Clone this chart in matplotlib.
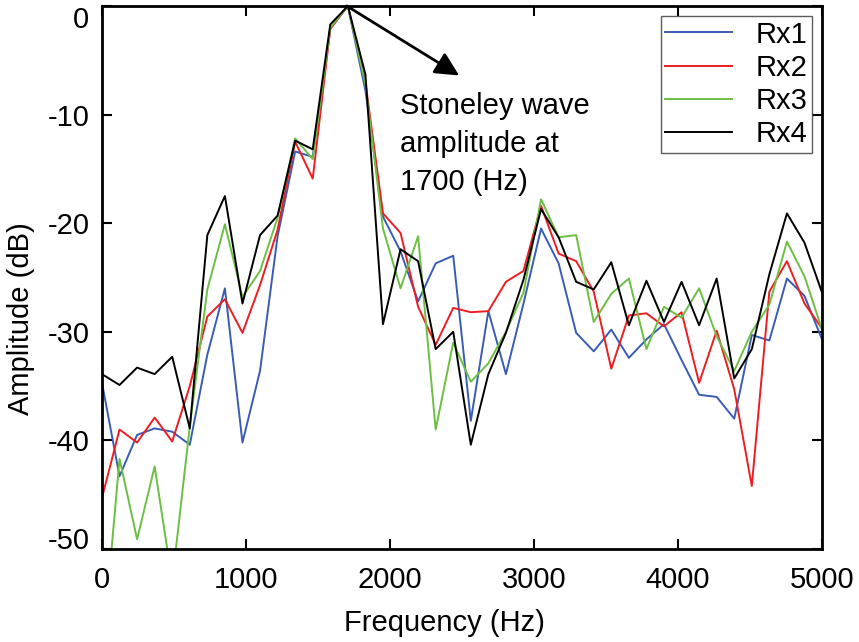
import numpy as np
import matplotlib
matplotlib.use('Agg')
import matplotlib.pyplot as plt

plt.rcParams['font.family'] = ['Liberation Sans', 'DejaVu Sans']
plt.rcParams['axes.unicode_minus'] = False

# frequency bins (42 evenly spaced bins from 0 to 5000 Hz)
freq = np.linspace(0, 5000, 42)

# amplitude spectra (dB) of the four receivers
rx1 = [-34.7, -43.3, -39.5, -38.9, -39.2, -40.4, -32.1, -26.0, -40.2, -33.6,
       -21.2, -13.4, -13.9, -2.1, 0.0, -7.8, -19.4, -22.6, -27.2, -23.7,
       -23.0, -38.2, -28.1, -33.9, -27.4, -20.5, -23.7, -30.1, -31.8, -29.8,
       -32.4, -30.7, -29.3, -32.6, -35.8, -36.0, -38.0, -30.3, -30.8, -25.1,
       -26.7, -30.7]
rx2 = [-45.3, -39.0, -40.2, -37.9, -40.1, -35.0, -28.6, -27.0, -30.1, -25.7,
       -20.6, -12.5, -15.9, -2.1, 0.0, -7.0, -19.1, -20.9, -27.7, -31.2,
       -27.8, -28.2, -28.1, -25.4, -24.4, -18.4, -22.8, -23.5, -26.3, -33.4,
       -28.5, -28.3, -29.5, -28.2, -34.7, -29.9, -35.3, -44.2, -26.3, -23.5,
       -27.4, -29.7]
rx3 = [-60.0, -41.7, -49.1, -42.4, -53.0, -38.7, -26.1, -20.1, -26.8, -24.4,
       -19.5, -12.2, -14.1, -2.0, 0.0, -7.2, -20.5, -26.0, -21.2, -39.0,
       -31.0, -34.6, -32.9, -30.0, -26.4, -17.8, -21.3, -21.1, -29.1, -26.5,
       -25.1, -31.6, -27.7, -28.7, -26.0, -30.4, -33.6, -30.0, -27.5, -21.7,
       -24.9, -29.8]
rx4 = [-33.9, -34.9, -33.3, -33.9, -32.3, -38.9, -21.1, -17.5, -27.4, -21.1,
       -19.3, -12.4, -13.2, -1.7, 0.0, -6.3, -29.3, -22.4, -23.5, -31.6,
       -30.0, -40.4, -33.9, -30.1, -25.2, -18.7, -21.3, -25.4, -26.1, -23.6,
       -29.4, -25.3, -29.1, -25.4, -29.4, -25.1, -34.3, -31.6, -24.7, -19.1,
       -21.8, -26.4]

labels = ['Rx1', 'Rx2', 'Rx3', 'Rx4']
colors = ['#3a5cb4', '#ee1d23', '#6cbf44', '#000000']

fig = plt.figure(figsize=(8.59, 6.42), dpi=100)
ax = fig.add_axes([0.1187, 0.1449, 0.8383, 0.8458])

for y, lab, c in zip([rx1, rx2, rx3, rx4], labels, colors):
    ax.plot(freq, y, color=c, lw=1.4, label=lab)

ax.set_xlim(0, 5000)
ax.set_ylim(-50, 0)
ax.set_xticks([0, 1000, 2000, 3000, 4000, 5000])
ax.set_yticks([0, -10, -20, -30, -40, -50])
ax.tick_params(direction='in', top=True, right=True, length=7, width=1.5,
               labelsize=21)
ax.tick_params(axis='x', pad=12)
ax.tick_params(axis='y', pad=9)
for s in ax.spines.values():
    s.set_linewidth(2)

# end labels sit inside the axis range, as in the original
for t in ax.get_yticklabels():
    if t.get_text() == '0':
        t.set_va('top')
    elif t.get_text() == '-50':
        t.set_va('baseline')

ax.set_xlabel('Frequency (Hz)', fontsize=21)
ax.set_ylabel('Amplitude (dB)', fontsize=21)
ax.xaxis.set_label_coords(0.476, -0.11)
ax.yaxis.set_label_coords(-0.093, 0.425)

# arrow pointing away from the Stoneley peak
ax.annotate('', xy=(2480, -6.4), xytext=(1700, 0),
            arrowprops=dict(arrowstyle='-|>', lw=2, color='k', mutation_scale=36,
                            shrinkA=0, shrinkB=0))
ax.text(2066, -7.9, 'Stoneley wave\namplitude at\n1700 (Hz)', fontsize=21,
        va='top', ha='left', linespacing=1.45)

leg = ax.legend(loc='upper right', fontsize=21, frameon=True, fancybox=False,
                edgecolor='#333333', handlelength=2.3, handletextpad=0.8,
                labelspacing=0.18, borderaxespad=0.35, borderpad=0.15)
leg.get_frame().set_linewidth(1)

fig.savefig('out.png', dpi=100)
